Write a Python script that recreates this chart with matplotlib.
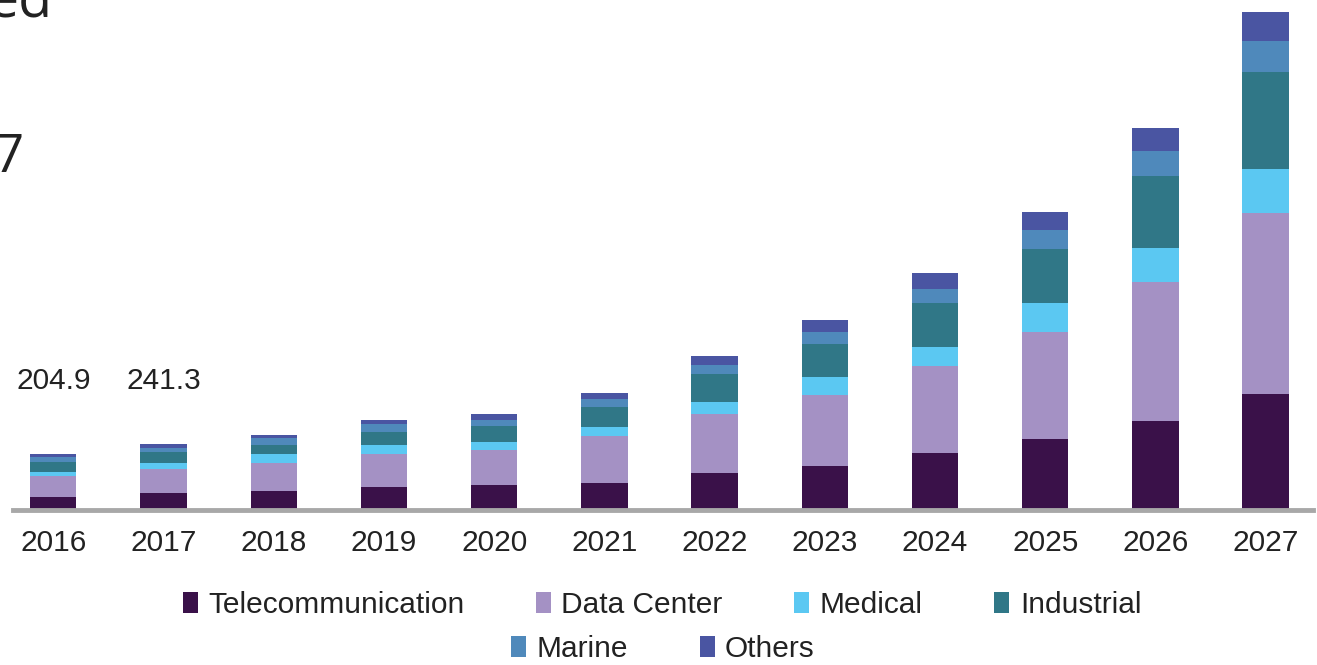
import matplotlib
matplotlib.use("Agg")
import matplotlib.pyplot as plt
from matplotlib.patches import Patch
from matplotlib import font_manager

years = ["2016", "2017", "2018", "2019", "2020", "2021", "2022", "2023", "2024", "2025", "2026", "2027"]
telecom    = [48.7, 62.0, 70.6, 83.0, 91.5, 100.0, 136.5, 161.0, 208.6, 259.9, 325.7, 424.6]
datacenter = [76.9, 89.0, 100.3, 122.0, 128.0, 171.0, 215.0, 260.0, 318.4, 391.6, 508.7, 662.5]
medical    = [14.6, 22.0, 34.0, 33.0, 29.3, 34.0, 45.0, 64.8, 69.5, 106.0, 124.4, 161.0]
industrial = [36.6, 37.5, 32.9, 48.8, 58.6, 71.0, 101.4, 121.0, 161.0, 197.6, 263.5, 355.0]
marine     = [16.1, 16.0, 24.5, 28.0, 22.0, 29.3, 33.0, 44.0, 51.2, 69.5, 91.5, 113.5]
others     = [12.1, 14.8, 12.1, 14.6, 20.9, 24.2, 34.0, 43.9, 58.6, 65.9, 84.2, 106.1]
series_names = ["Telecommunication", "Data Center", "Medical", "Industrial", "Marine", "Others"]
total_labels = ["204.9", "241.3"]

colors = ["#3a1149", "#a491c4", "#5bc8f2", "#307787", "#4f89bb", "#4a55a2"]

available = {f.name for f in font_manager.fontManager.ttflist}
narrow = "Liberation Sans Narrow" if "Liberation Sans Narrow" in available else "Liberation Sans"
plt.rcParams["font.family"] = [narrow, "DejaVu Sans"]

W, H = 1317, 665
fig = plt.figure(figsize=(W / 100, H / 100), dpi=100)
ax = fig.add_axes([13 / W, (H - 510) / H, 1300 / W, 510 / H])

series = [telecom, datacenter, medical, industrial, marine, others]
x = list(range(len(years)))
bottom = [0.0] * len(years)
for vals, name, c in zip(series, series_names, colors):
    ax.bar(x, vals, bottom=bottom, width=0.42, color=c, label=name, linewidth=0)
    bottom = [b + v for b, v in zip(bottom, vals)]

ax.set_xlim(-0.366, 11.43)
ax.set_ylim(0, 1866)
ax.set_xticks(x)
ax.set_xticklabels(years, fontsize=21.5, color="#222222")
ax.tick_params(axis="x", length=0, pad=14)
ax.set_yticks([])
for s in ["top", "right", "left"]:
    ax.spines[s].set_visible(False)
ax.spines["bottom"].set_color("#a8a8a8")
ax.spines["bottom"].set_linewidth(3.5)

for i, lab in enumerate(total_labels):
    ax.text(i, 422, lab, ha="center", va="bottom", fontsize=21.5, color="#222222")

handles = [Patch(facecolor=c, edgecolor="none") for c in colors]
kw = dict(frameon=False, fontsize=21.5, handlelength=0.5, handleheight=0.7,
          handletextpad=0.35, columnspacing=2.4, borderpad=0, labelcolor="#222222")
fig.legend(handles[:4], series_names[:4], loc="center", ncol=4,
           bbox_to_anchor=(662 / W, (H - 605) / H), **kw)
fig.legend(handles[4:], series_names[4:], loc="center", ncol=2,
           bbox_to_anchor=(663 / W, (H - 649) / H), **kw)

fig.text(53 / W, (H - 18) / H, "ed", ha="right", va="baseline", fontsize=40,
         family=["Open Sans", "DejaVu Sans"], color="#222222")
fig.text(24 / W, (H - 172) / H, "7", ha="right", va="baseline", fontsize=38,
         family=["Open Sans", "DejaVu Sans"], color="#222222")

fig.savefig("out.png", dpi=100)
